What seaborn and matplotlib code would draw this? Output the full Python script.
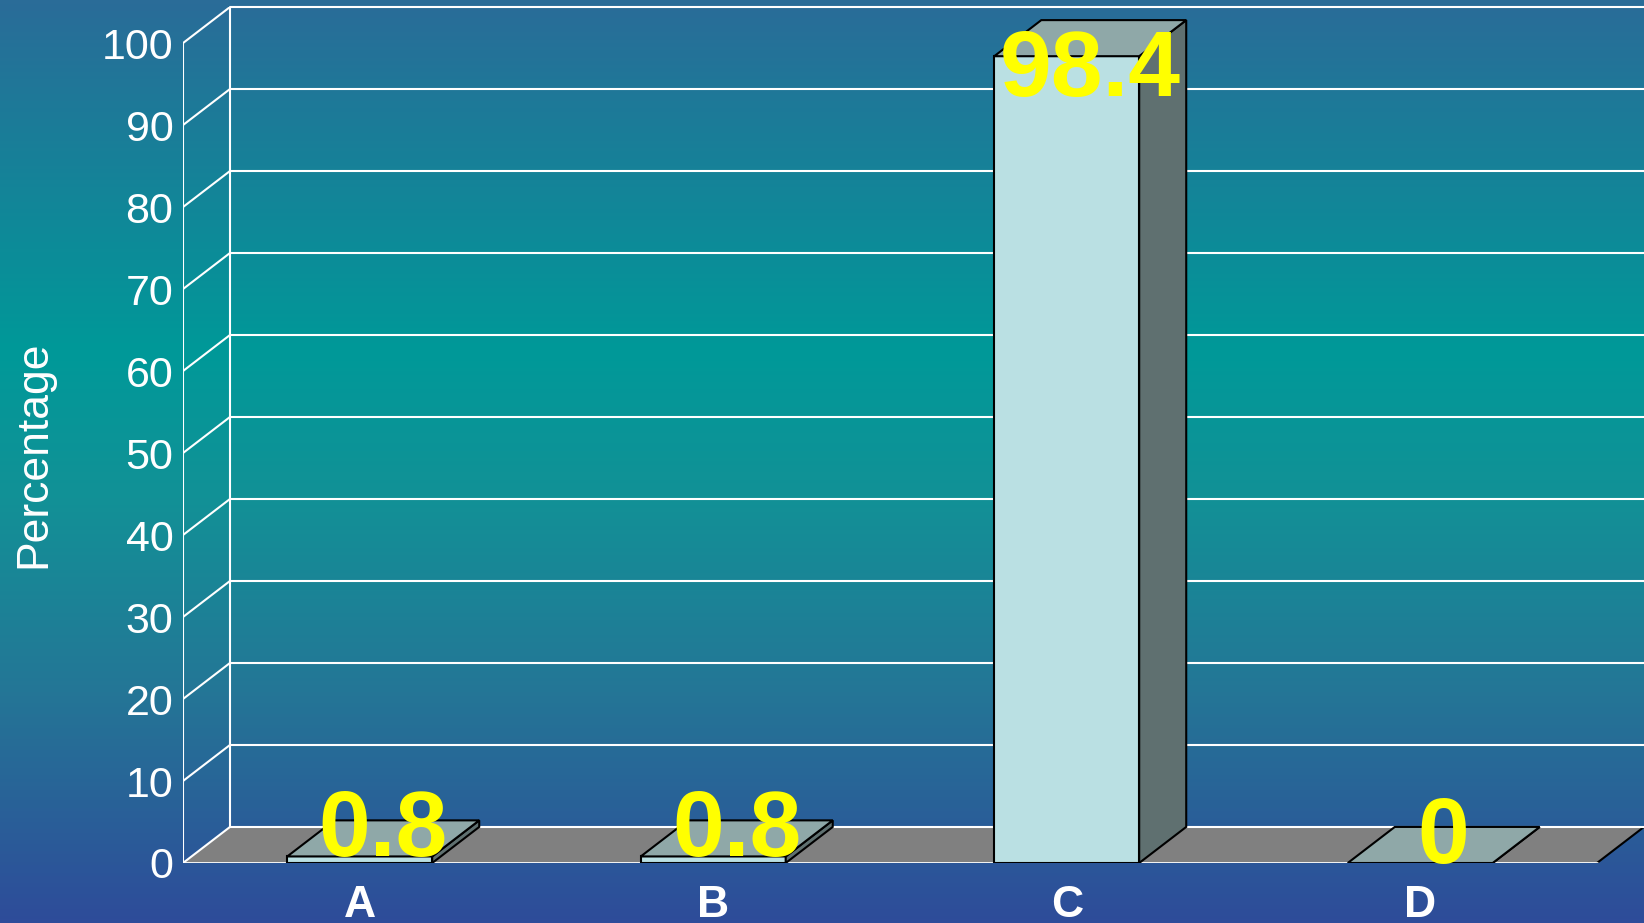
import numpy as np
import pandas as pd
import matplotlib
matplotlib.use('Agg')
import matplotlib.pyplot as plt
import seaborn as sns
from matplotlib.colors import LinearSegmentedColormap
from matplotlib.patches import Polygon


categories = ['A', 'B', 'C', 'D']
percentages = [0.8, 0.8, 98.4, 0]
y_ticks = list(range(0, 101, 10))

# depth of the fake 3d box, in data units
DX = 0.133
DY = 4.4

front_color = '#bae0e3'
top_color = '#8fa8a8'
side_color = '#5f7070'
floor_color = '#808080'


sns.set_theme(style='white')
plt.rcParams['font.family'] = ['Liberation Sans', 'DejaVu Sans']

fig = plt.figure(figsize=(16.44, 9.23), dpi=100)

# background gradient blue -> teal -> blue
bg = fig.add_axes([0, 0, 1, 1], zorder=0)
cmap = LinearSegmentedColormap.from_list(
    'bg', [(0, '#2a6c98'), (0.38, '#009999'), (0.54, '#129196'),
           (0.75, '#247696'), (1, '#2e4c9a')])
bg.imshow(np.linspace(0, 1, 256).reshape(-1, 1), aspect='auto', cmap=cmap,
          extent=[0, 1, 0, 1])
bg.axis('off')

ax = fig.add_axes([183 / 1644, 60 / 923, 1 - 183 / 1644, 856 / 923], zorder=1)
ax.patch.set_alpha(0)

df = pd.DataFrame({'category': categories, 'percentage': percentages})
sns.barplot(data=df, x='category', y='percentage', ax=ax, width=0.41,
            color=front_color, saturation=1, edgecolor='black', linewidth=1.5,
            zorder=4)

ax.set_xlim(-0.5, len(categories) - 0.5 + DX)
ax.set_ylim(0, 100 + DY)

x_left = -0.5
x_right = len(categories) - 0.5

# floor
ax.add_patch(Polygon([(x_left, 0), (x_right, 0), (x_right + DX, DY), (x_left + DX, DY)],
                     closed=True, facecolor=floor_color, edgecolor='none', zorder=1))
ax.plot([x_right, x_right + DX], [0, DY], color='black', lw=1.5, zorder=2)

# back wall grid and side wall diagonals
for v in y_ticks:
    ax.plot([x_left + DX, x_right + DX], [v + DY, v + DY], color='white', lw=1.5,
            zorder=2, clip_on=False)
    ax.plot([x_left, x_left + DX], [v, v + DY], color='white', lw=1.5, zorder=2)
ax.plot([x_left + DX, x_left + DX], [DY, 100 + DY], color='white', lw=1.5, zorder=2)
ax.plot([x_left, x_left], [0, 100], color='white', lw=1.5, zorder=2)
ax.plot([x_left, x_right], [0, 0], color='white', lw=2, zorder=2)

# top and side faces of each bar
for bar in list(ax.patches):
    if not hasattr(bar, 'get_width'):
        continue
    x0 = bar.get_x()
    x1 = x0 + bar.get_width()
    h = bar.get_height()
    ax.add_patch(Polygon([(x1, 0), (x1 + DX, DY), (x1 + DX, h + DY), (x1, h)], closed=True,
                         facecolor=side_color, edgecolor='black', lw=1.5, zorder=4))
    ax.add_patch(Polygon([(x0, h), (x1, h), (x1 + DX, h + DY), (x0 + DX, h + DY)], closed=True,
                         facecolor=top_color, edgecolor='black', lw=1.5, zorder=4))

# value labels, kept inside the plot area
for i, v in enumerate(percentages):
    ax.text(i + DX / 2, min(v, 93.6), f'{v:g}', ha='center', va='baseline',
            fontsize=67, fontweight='bold', color='#ffff00', zorder=10)

ax.set_yticks(y_ticks)
ax.set_yticklabels([str(t) for t in y_ticks])
ax.set_xticks(range(len(categories)))
ax.set_xticklabels(categories, fontweight='bold')
ax.tick_params(axis='y', length=0, pad=7, labelsize=31, labelcolor='white')
ax.tick_params(axis='x', length=0, pad=16, labelsize=32, labelcolor='white')
ax.set_xlabel('')
ax.set_ylabel('')
ax.grid(False)
for s in ax.spines.values():
    s.set_visible(False)

fig.text(34 / 1644, 1 - 454 / 923, 'Percentage', rotation=90, ha='center', va='center',
         fontsize=32, color='white')

fig.savefig('out.png', dpi=100)
